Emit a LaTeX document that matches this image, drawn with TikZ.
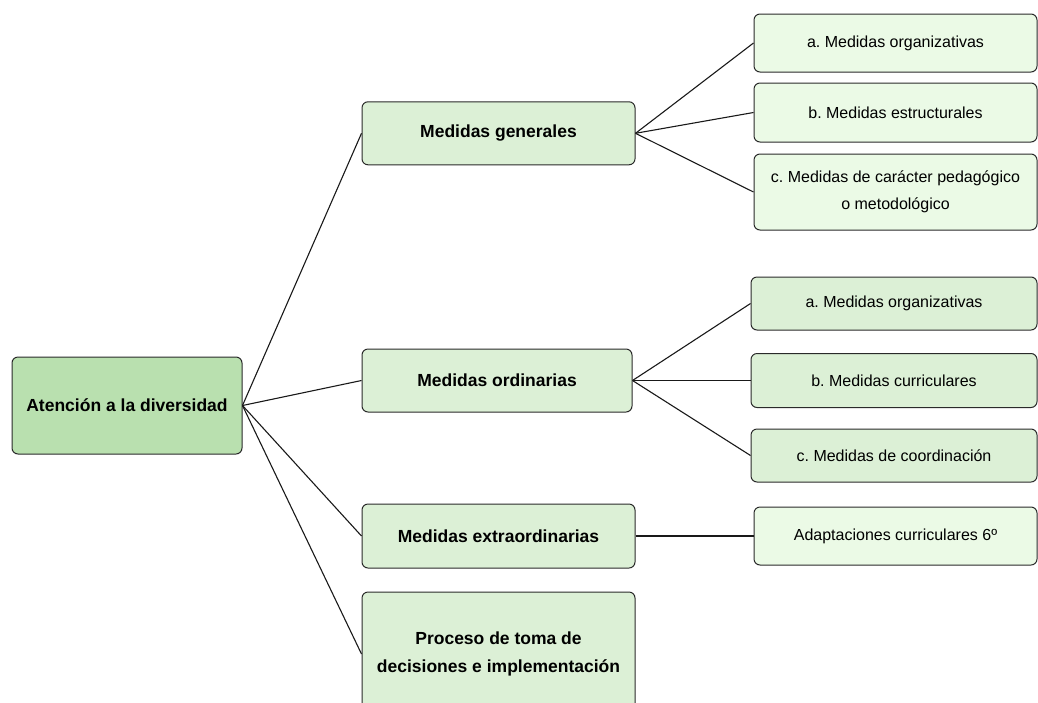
\documentclass[tikz,border=0pt]{standalone}
\usepackage{fontspec}
\setmainfont{Liberation Sans}
\frenchspacing
\definecolor{rootfill}{HTML}{B9E0AF}
\definecolor{midfill}{HTML}{DCF0D6}
\definecolor{lightfill}{HTML}{EBFAE6}
\definecolor{edgec}{HTML}{2A2A2A}
\begin{document}
\begin{tikzpicture}[x=1pt,y=-1pt,
  box/.style={draw=edgec,line width=1pt,rounded corners=6pt,align=center,inner sep=0pt},
  rootbox/.style={box,fill=rootfill,font=\fontsize{17.5}{28}\selectfont\bfseries},
  midbox/.style={box,fill=midfill,font=\fontsize{17.5}{28}\selectfont\bfseries},
  leafbox/.style={box,fill=lightfill,font=\fontsize{16}{27}\selectfont},
  leafdark/.style={box,fill=midfill,font=\fontsize{16}{27}\selectfont},
  link/.style={draw=black!90,line width=1.1pt}]
\clip (0,0) rectangle (1038,702);
\useasboundingbox (0,0) rectangle (1038,702);
\node[rootbox,minimum width=230pt,minimum height=97pt] (root) at (127,405.5) {Atención a la diversidad};
\node[midbox,minimum width=273pt,minimum height=63pt] (gen) at (498.5,133.3) {Medidas generales};
\node[midbox,minimum width=270pt,minimum height=63pt] (ord) at (497,380.5) {Medidas ordinarias};
\node[midbox,minimum width=273pt,minimum height=64pt] (ext) at (498.5,536) {Medidas extraordinarias};
\node[midbox,minimum width=273pt,minimum height=124pt] (proc) at (498.5,654) {Proceso de toma de\\decisiones e implementación};
\node[leafbox,minimum width=283pt,minimum height=58pt] (ga) at (895.5,43) {a. Medidas organizativas};
\node[leafbox,minimum width=283pt,minimum height=59pt] (gb) at (895.5,112.5) {b. Medidas estructurales};
\node[leafbox,minimum width=283pt,minimum height=76pt] (gc) at (895.5,192) {c. Medidas de carácter pedagógico\\o metodológico};
\node[leafdark,minimum width=286pt,minimum height=53pt] (oa) at (894,303.5) {a. Medidas organizativas};
\node[leafdark,minimum width=286pt,minimum height=54pt] (ob) at (894,380.5) {b. Medidas curriculares};
\node[leafdark,minimum width=286pt,minimum height=53pt] (oc) at (894,455.5) {c. Medidas de coordinación};
\node[leafbox,minimum width=283pt,minimum height=58pt] (ea) at (895.5,536) {Adaptaciones curriculares 6º};
\draw[link] (root.east) -- (gen.west);
\draw[link] (root.east) -- (ord.west);
\draw[link] (root.east) -- (ext.west);
\draw[link] (root.east) -- (proc.west);
\draw[link] (gen.east) -- (ga.west);
\draw[link] (gen.east) -- (gb.west);
\draw[link] (gen.east) -- (gc.west);
\draw[link] (ord.east) -- (oa.west);
\draw[link] (ord.east) -- (ob.west);
\draw[link] (ord.east) -- (oc.west);
\draw[link] (ext.east) -- (ea.west);
\end{tikzpicture}
\end{document}
